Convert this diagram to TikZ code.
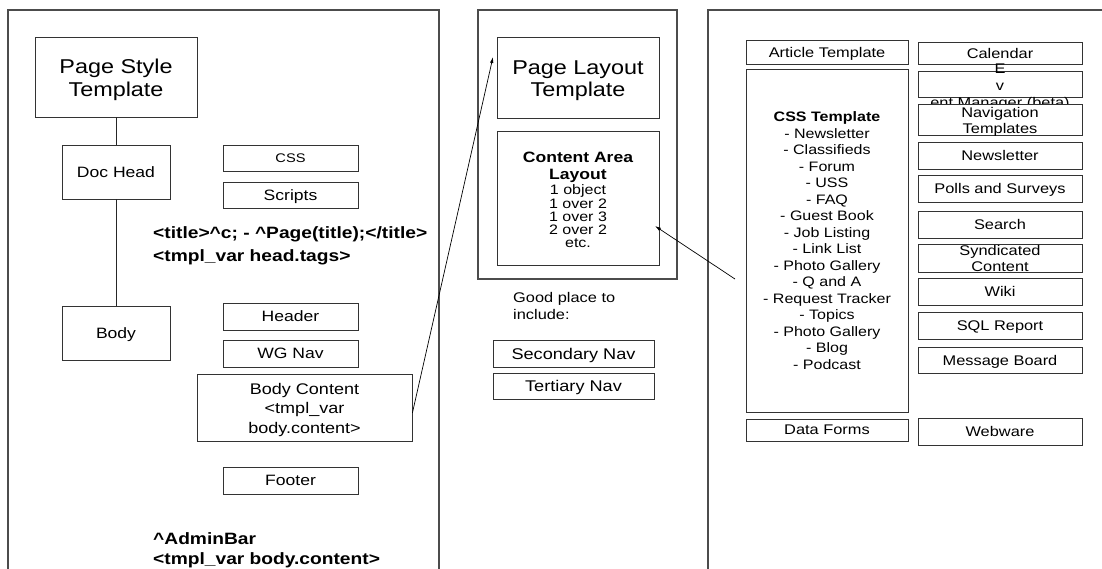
\documentclass[tikz,border=0pt]{standalone}
\usepackage{fontspec}
\setmainfont{Liberation Sans}[FakeStretch=1.17]
\usetikzlibrary{arrows.meta,calc}
\newcommand\setfs[2]{\fontsize{#1}{#2}\selectfont}

\begin{document}
\begin{tikzpicture}[x=1pt,y=-1pt,
  box/.style={draw=black!80, line width=0.8pt, fill=white, inner sep=0pt, align=center},
  one/.style={text depth=0pt},
  lbl/.style={inner sep=0pt, align=center},
  panel/.style={draw=black!70, line width=1.1pt},
  link/.style={draw=black!85, line width=0.8pt},
  ptr/.style={draw=black, line width=0.7pt, -{Latex[length=6pt,width=3.5pt]}},
  code/.style={font=\bfseries\setfs{16.4}{23}, align=left, anchor=west, inner sep=0pt},
  wideL/.style={one, minimum width=135, minimum height=27, font=\setfs{15}{18}},
  colR/.style={one, minimum width=164, minimum height=27, font=\setfs{14}{16}},
  colL/.style={one, minimum width=162, minimum height=24, font=\setfs{14}{16}},
]
\useasboundingbox (0,0) rectangle (1102,568);
\clip (0,0) rectangle (1102,568);

% three frames
\draw[panel] (8,580) -- (8,10) -- (439,10) -- (439,580);
\draw[panel] (478,10) rectangle (677,279);
\draw[panel] (708,580) -- (708,10) -- (1120,10);

% ---- page style template ----
\node[box, minimum width=162, minimum height=80] (pst) at (116,77) {};
\node[lbl, font=\setfs{20}{22.5}] (psttext) at (116,80) {Page Style\\Template};
\node[box, one, minimum width=108, minimum height=54, font=\setfs{15}{18}] (dochead) at (116,172) {Doc Head};
\node[box, one, minimum width=108, minimum height=54, font=\setfs{15}{18}] (body) at (116,333) {Body};
\draw[link] (pst) -- (dochead);
\draw[link] (dochead) -- (body);

\node[box, wideL, minimum height=26, font=\setfs{12.5}{15}] (css) at (290.5,158) {CSS};
\node[box, wideL, minimum height=26] (scripts) at (290.5,195) {Scripts};
\node[code] (headvars) at (153,246) {<title>\textasciicircum c; - \textasciicircum Page(title);</title>\\<tmpl\_var head.tags>};

\node[box, wideL] (header) at (290.5,316.5) {Header};
\node[box, wideL] (wgnav) at (290.5,353.5) {WG Nav};
\node[box, minimum width=215, minimum height=67] (bodycontent) at (304.5,407.5) {};
\node[lbl, font=\setfs{15.4}{19.5}] (bodycontenttext) at (304.5,410) {Body Content\\<tmpl\_var\\body.content>};
\node[box, wideL] (footer) at (290.5,480.5) {Footer};
\node[code, font=\bfseries\setfs{16.4}{20}] (adminbar) at (153,550.5) {\textasciicircum AdminBar\\<tmpl\_var body.content>};

% ---- page layout template ----
\node[box, minimum width=162, minimum height=81] (plt) at (578,77.5) {};
\node[lbl, font=\setfs{20}{22.5}] (plttext) at (578,80.5) {Page Layout\\Template};
\node[box, minimum width=162, minimum height=134] (cal) at (578,198) {};
\node[lbl, font=\setfs{13.7}{13.3}] (caltext) at (578,200)
  {{\bfseries\setfs{15}{17}Content Area}\\[3.3pt]{\bfseries\setfs{15}{17}Layout}\\[2.4pt]1 object\\1 over 2\\1 over 3\\2 over 2\\etc.};
\node[lbl, anchor=west, align=left, font=\setfs{14}{17}] (include) at (513,305.5) {Good place to\\include:};
\node[box, one, minimum width=161, minimum height=27, font=\setfs{15.5}{18}] (secnav) at (573.5,353.5) {Secondary Nav};
\node[box, one, minimum width=161, minimum height=26, font=\setfs{15.5}{18}] (ternav) at (573.5,386) {Tertiary Nav};

% ---- wobject templates ----
\node[box, colL] (article) at (827,52) {Article Template};
\node[box, minimum width=162, minimum height=343, font=\setfs{13.7}{16.5}] (csst) at (827,240.5)
  {\textbf{CSS Template}\\- Newsletter\\- Classifieds\\- Forum\\- USS\\- FAQ\\- Guest Book\\- Job Listing\\- Link List\\- Photo Gallery\\- Q and A\\- Request Tracker\\- Topics\\- Photo Gallery\\- Blog\\- Podcast};
\node[box, colL, minimum height=22] (dataforms) at (827,430) {Data Forms};

\node[box, colR, minimum height=22] (calendar) at (1000,53) {Calendar};
\node[box, colR, minimum height=26] (event) at (1000,84.7) {};
\node[lbl, font=\setfs{14}{17}] (eventtext) at (1000,87.5) {E\\v\\ent Manager (beta)};
\node[box, colR, minimum height=30.7] (navtpl) at (1000,119.7) {};
\node[lbl, font=\setfs{14}{16}] (navtpltext) at (1000,121.5) {Navigation\\Templates};
\node[box, colR] (newsletter) at (1000,155.5) {Newsletter};
\node[box, colR] (polls) at (1000,188.5) {Polls and Surveys};
\node[box, colR] (search) at (1000,224.5) {Search};
\node[box, colR, minimum height=28] (synd) at (1000,258) {};
\node[lbl, font=\setfs{14}{16}] (syndtext) at (1000,258) {Syndicated\\Content};
\node[box, colR] (wiki) at (1000,291.5) {Wiki};
\node[box, colR] (sql) at (1000,325.5) {SQL Report};
\node[box, colR, minimum height=26] (msgboard) at (1000,360) {Message Board};
\node[box, colR] (webware) at (1000,431.5) {Webware};

% ---- pointers ----
\coordinate (pltTip) at (493,57);
\draw[ptr] ($(bodycontent.north east)!0.58!(bodycontent.south east)$) -- (pltTip);
\coordinate (cssFrom) at (735,279);
\coordinate (calTip) at (655,226);
\draw[ptr] (cssFrom) -- (calTip);
\end{tikzpicture}
\end{document}
